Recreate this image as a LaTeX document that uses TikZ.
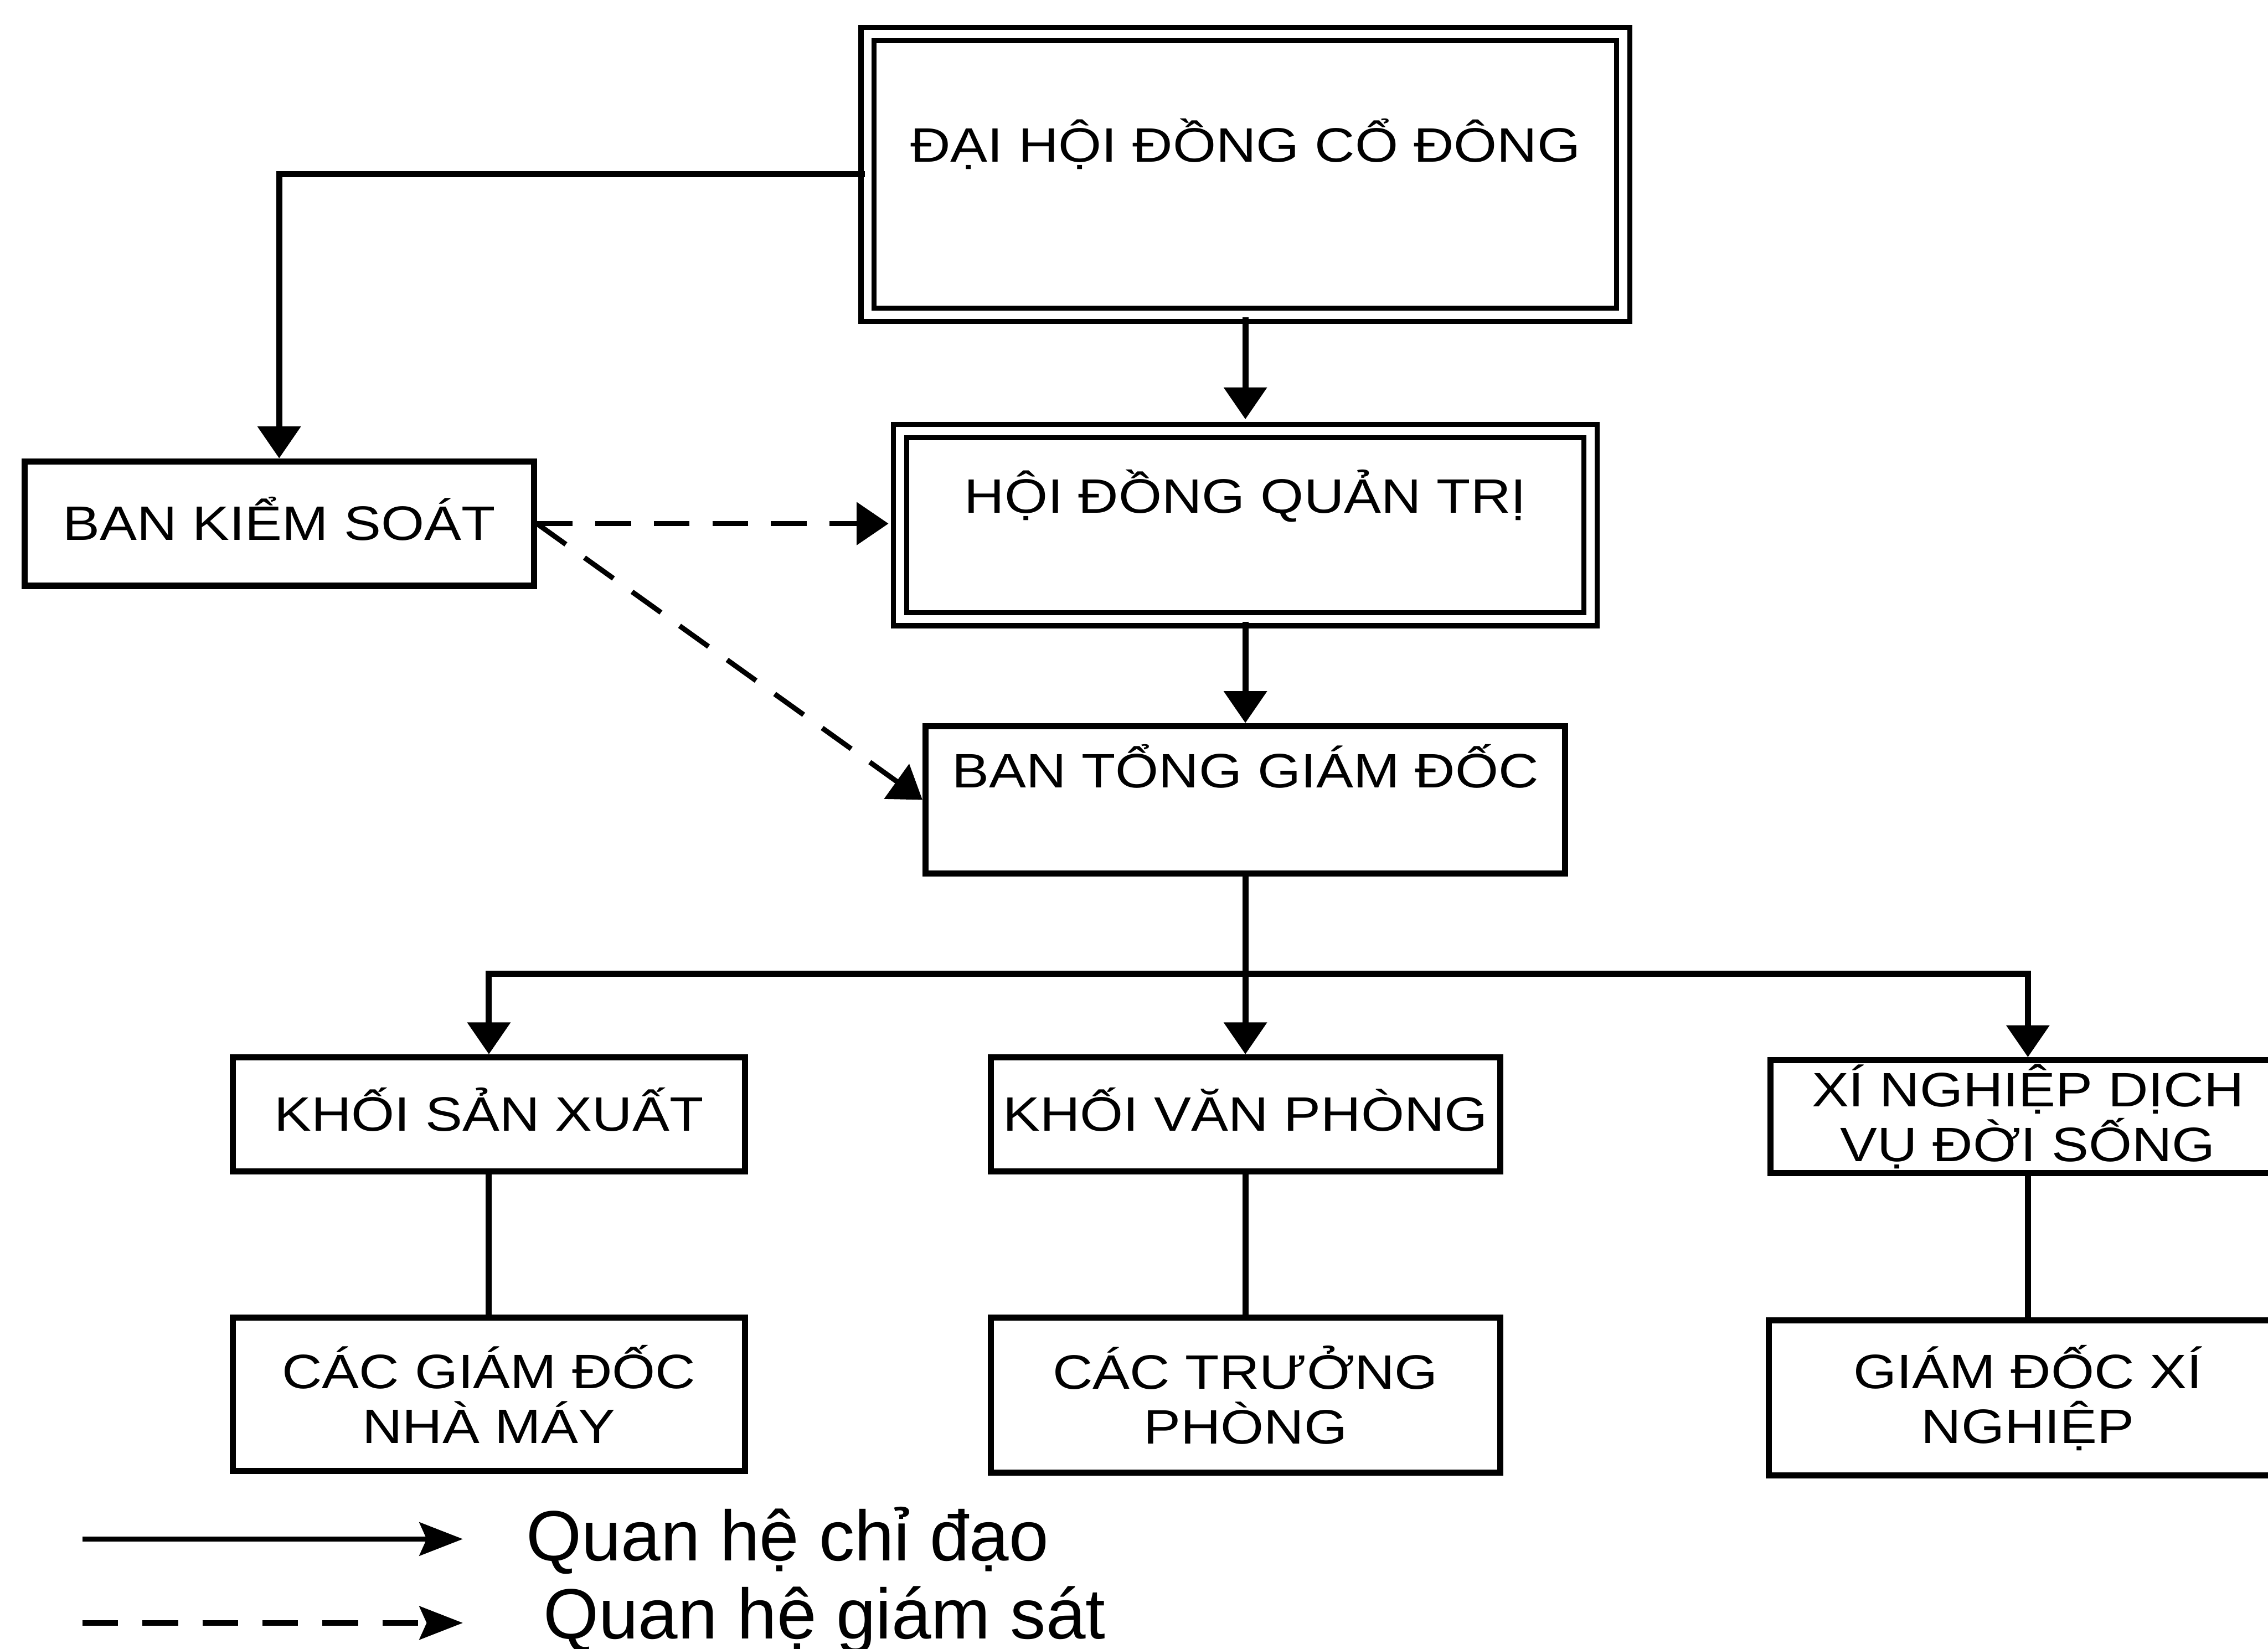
\documentclass[tikz,border=0pt]{standalone}
\usepackage{fontspec}
\setmainfont{Liberation Sans}
\newfontfamily\boxfont{Liberation Sans}[FakeStretch=1.15]
\usetikzlibrary{arrows.meta,positioning}
\tikzset{
  orgbox/.style={draw, line width=1.2pt, inner sep=0pt, align=center, font=\boxfont\fontsize{9.5pt}{10.8pt}\selectfont},
  topbox/.style={orgbox, double, line width=1pt, double distance=1.6pt, text height=0.23cm, text depth=0.40cm},
  onerow/.style={text height=0.23cm, text depth=0cm},
  arrow/.style={-{Triangle[length=0.22cm, width=0.29cm]}, line width=1.2pt},
  dasharrow/.style={arrow, line width=1pt, dash pattern=on 7pt off 4.5pt},
  keyarrow/.style={-{Stealth[length=0.30cm, width=0.23cm, inset=0.05cm]}, line width=1pt},
  keytext/.style={anchor=base west, inner sep=0pt, font=\fontsize{14pt}{16pt}\selectfont}
}
\begin{document}
\begin{tikzpicture}[x=0.01cm, y=-0.01cm]
  \useasboundingbox (0,0) rectangle (1568,1140);

  \node[topbox, minimum width=5.22cm, minimum height=1.94cm] (dhcd) at (861,120.5) {ĐẠI HỘI ĐỒNG CỔ ĐÔNG};
  \node[topbox, minimum width=4.77cm, minimum height=1.30cm] (hdqt) at (861,363) {HỘI ĐỒNG QUẢN TRỊ};
  \node[orgbox, onerow, minimum width=3.52cm, minimum height=0.86cm] (bks) at (193,362) {BAN KIỂM SOÁT};
  \node[orgbox, text height=0.23cm, text depth=0.40cm, minimum width=4.42cm, minimum height=1.02cm] (btgd) at (861,553) {BAN TỔNG GIÁM ĐỐC};

  \node[orgbox, onerow, minimum width=3.54cm, minimum height=0.79cm] (ksx) at (338,770.5) {KHỐI SẢN XUẤT};
  \node[orgbox, onerow, minimum width=3.52cm, minimum height=0.79cm] (kvp) at (861,770.5) {KHỐI VĂN PHÒNG};
  \node[orgbox, minimum width=3.56cm, minimum height=0.78cm] (xn) at (1402,772) {XÍ NGHIỆP DỊCH\\VỤ ĐỜI SỐNG};

  \node[orgbox, minimum width=3.54cm, minimum height=1.06cm] (gdnm) at (338,964) {CÁC GIÁM ĐỐC\\NHÀ MÁY};
  \node[orgbox, minimum width=3.52cm, minimum height=1.07cm] (ctp) at (861,964.5) {CÁC TRƯỞNG\\PHÒNG};
  \node[orgbox, minimum width=3.58cm, minimum height=1.07cm] (gdxn) at (1402,966.5) {GIÁM ĐỐC XÍ\\NGHIỆP};

  % chi dao
  \draw[arrow] (dhcd.west) -| (bks.north);
  \draw[arrow, shorten >=1.8pt] (dhcd.south) -- (hdqt.north);
  \draw[arrow] (hdqt.south) -- (btgd.north);
  \draw[line width=1.2pt] (btgd.south) -- (btgd.south |- 0,673) coordinate (split);
  \draw[arrow] (split) -| (ksx.north);
  \draw[arrow] (split) -- (kvp.north);
  \draw[arrow] (split) -| (xn.north);
  \draw[line width=1.2pt] (ksx) -- (gdnm);
  \draw[line width=1.2pt] (kvp) -- (ctp);
  \draw[line width=1.2pt] (xn) -- (gdxn);

  % giam sat
  \draw[dasharrow, shorten >=1.8pt] (bks.east) -- (bks.east -| hdqt.west);
  \draw[dasharrow] (bks.east) -- (btgd.west);

  % chu thich
  \coordinate (k1) at (57,1064);
  \coordinate (k2) at (57,1122);
  \node[keytext] (key1) at (363,1079) {Quan hệ chỉ đạo};
  \node[keytext] (key2) at (375,1133) {Quan hệ giám sát};
  \draw[keyarrow] (k1) -- (k1 -| 320,0);
  \draw[keyarrow, dash pattern=on 7pt off 4.8pt] (k2) -- (k2 -| 320,0);
\end{tikzpicture}
\end{document}
